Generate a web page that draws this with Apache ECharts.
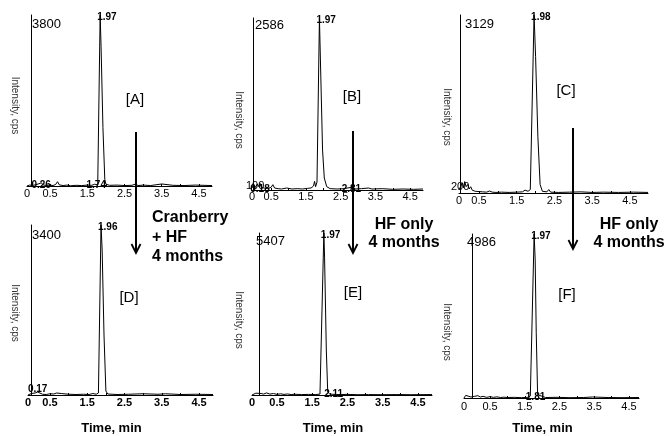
<!DOCTYPE html>
<html lang="en">
<head>
<meta charset="UTF-8">
<title>Chromatograms</title>
<script src="https://cdn.jsdelivr.net/npm/echarts@6/dist/echarts.min.js"></script>
<style>
    html, body { margin: 0; padding: 0; background: #fff; }
    #main { width: 667px; height: 436px; }
</style>
</head>
<body>
<div id="main"></div>
<script>
    // panel names and full-scale intensity (cps)
    const panelNames = ['[A]', '[B]', '[C]', '[D]', '[E]', '[F]'];
    const yMaxes = [3800, 2586, 3129, 3400, 5407, 4986];
    const xTickLabels = [0, 0.5, 1.5, 2.5, 3.5, 4.5];
    const xMinorTicks = [0.5, 1, 1.5, 2, 2.5, 3, 3.5, 4, 4.5];

    // traces: [time (min), intensity (cps)]
    const traceA = [[-0.12, 0], [-0.05, 20], [0.0, 45], [0.05, 15], [0.12, 30], [0.2, 50], [0.26, 70], [0.32, 25], [0.4, 10], [0.5, 20], [0.58, 10], [0.65, 35], [0.7, 95], [0.75, 25], [0.85, 10], [0.95, 20], [1.05, 5], [1.2, 15], [1.35, 10], [1.5, 20], [1.62, 15], [1.7, 40], [1.74, 70], [1.78, 25], [1.8, 50], [1.845, 3800], [1.87, 3100], [1.92, 1300], [1.97, 150], [2.0, 40], [2.1, 15], [2.3, 20], [2.5, 10], [2.7, 15], [2.8, 45], [2.86, 10], [3.0, 20], [3.2, 10], [3.5, 45], [3.55, 10], [3.8, 15], [4.1, 10], [4.4, 20], [4.85, 10]];
    const traceB = [[-0.05, 30], [0.0, 80], [0.05, 40], [0.1, 90], [0.15, 50], [0.18, 100], [0.22, 40], [0.3, 30], [0.4, 20], [0.5, 40], [0.55, 80], [0.6, 30], [0.7, 20], [0.8, 15], [0.95, 30], [1.1, 15], [1.25, 20], [1.4, 15], [1.55, 25], [1.65, 30], [1.72, 60], [1.75, 130], [1.78, 50], [1.82, 120], [1.89, 2586], [1.93, 1700], [1.98, 600], [2.03, 180], [2.1, 50], [2.2, 20], [2.4, 15], [2.6, 20], [2.8, 40], [2.9, 15], [3.1, 20], [3.3, 30], [3.4, 15], [3.7, 20], [4.0, 10], [4.3, 15], [4.6, 10], [4.87, 15]];
    const traceC = [[-0.03, 60], [0.02, 120], [0.06, 180], [0.09, 90], [0.12, 200], [0.16, 110], [0.2, 150], [0.24, 70], [0.28, 110], [0.32, 50], [0.36, 80], [0.4, 30], [0.45, 60], [0.5, 25], [0.55, 50], [0.6, 20], [0.65, 45], [0.7, 15], [0.78, 35], [0.85, 15], [0.9, 30], [0.95, 10], [1.1, 15], [1.3, 10], [1.5, 15], [1.65, 20], [1.72, 50], [1.76, 60], [1.8, 30], [1.86, 60], [1.96, 3129], [2.0, 2400], [2.06, 1000], [2.12, 150], [2.18, 30], [2.3, 20], [2.35, 60], [2.4, 15], [2.6, 10], [2.9, 15], [3.2, 20], [3.5, 10], [3.8, 15], [4.2, 10], [4.6, 15], [4.98, 10]];
    const traceD = [[-0.09, 0], [0.0, 30], [0.05, 15], [0.1, 40], [0.17, 60], [0.22, 20], [0.3, 15], [0.4, 10], [0.5, 25], [0.55, 50], [0.6, 20], [0.68, 40], [0.72, 15], [0.8, 30], [0.85, 10], [1.0, 15], [1.2, 10], [1.4, 15], [1.55, 10], [1.65, 30], [1.7, 60], [1.74, 15], [1.8, 40], [1.87, 3400], [1.9, 2900], [1.95, 1200], [2.0, 80], [2.05, 20], [2.3, 10], [2.6, 15], [3.0, 25], [3.05, 10], [3.4, 15], [3.6, 25], [3.65, 10], [4.0, 10], [4.4, 15], [4.875, 10]];
    const traceE = [[-0.21, 0], [-0.1, 60], [-0.05, 20], [0.05, 50], [0.12, 30], [0.2, 70], [0.3, 30], [0.4, 50], [0.5, 20], [0.6, 40], [0.7, 20], [0.8, 35], [0.9, 15], [1.0, 25], [1.2, 15], [1.4, 20], [1.6, 15], [1.72, 30], [1.76, 50], [1.83, 5407], [1.85, 4600], [1.9, 1500], [1.94, 100], [2.0, 30], [2.2, 15], [2.5, 20], [2.8, 10], [3.1, 15], [3.5, 10], [3.9, 15], [4.3, 10], [4.9, 15]];
    const traceF = [[-0.25, 0], [-0.2, 80], [-0.15, 20], [-0.05, 30], [0.05, 50], [0.1, 30], [0.15, 70], [0.22, 30], [0.3, 50], [0.4, 20], [0.5, 40], [0.6, 20], [0.7, 35], [0.8, 15], [0.9, 25], [1.0, 15], [1.2, 20], [1.4, 10], [1.6, 20], [1.66, 60], [1.77, 4986], [1.8, 4200], [1.83, 2000], [1.87, 100], [1.9, 40], [2.1, 15], [2.4, 20], [2.8, 10], [3.2, 15], [3.45, 30], [3.5, 10], [3.9, 15], [4.3, 10], [4.79, 15]];
    const traces = [traceA, traceB, traceC, traceD, traceE, traceF];

    // peak retention-time labels: [time, intensity, text]; first one is the apex
    const peaksA = [[1.845, 3800, '1.97'], [0.26, 0, '0.26'], [1.74, 0, '1.74']];
    const peaksB = [[1.89, 2586, '1.97'], [0.18, 0, '0.18'], [2.81, 0, '2.81']];
    const peaksC = [[1.96, 3129, '1.98']];
    const peaksD = [[1.87, 3400, '1.96'], [0.17, 100, '0.17']];
    const peaksE = [[1.83, 5407, '1.97'], [2.11, 0, '2.11']];
    const peaksF = [[1.77, 4986, '1.97'], [1.81, 0, '1.81']];
    const peaks = [peaksA, peaksB, peaksC, peaksD, peaksE, peaksF];

    // layout (pixels) of each panel
    const layout = [
        { left: 27, top: 15, width: 185, height: 171, xMin: -0.12, xMax: 4.85, margin: 2, bold: false, num: [32, 24], tag: [135, 100], nameGap: 7, nameShift: 5 },
        { left: 252, top: 18, width: 171, height: 172, xMin: -0.05, xMax: 4.87, margin: 1, bold: false, num: [255, 25], tag: [352, 97], nameGap: 8, nameShift: 16 },
        { left: 459, top: 15, width: 189, height: 178, xMin: -0.03, xMax: 4.98, margin: 2, bold: false, num: [465, 24], tag: [566, 91], nameGap: 7, nameShift: 13 },
        { left: 28, top: 225, width: 185, height: 170, xMin: -0.09, xMax: 4.875, margin: 2, bold: true, num: [32, 235], tag: [129, 298], nameGap: 8, nameShift: 3 },
        { left: 252, top: 233, width: 180, height: 162, xMin: -0.21, xMax: 4.9, margin: 2, bold: true, num: [256, 241], tag: [353, 293], nameGap: 8, nameShift: 6 },
        { left: 464, top: 234, width: 175, height: 164, xMin: -0.25, xMax: 4.79, margin: 3, bold: false, num: [467, 242], tag: [567, 295], nameGap: 12, nameShift: 16 }
    ];

    const FONT = '"Liberation Sans", Arial, Helvetica, sans-serif';

    let myEchart = echarts.init(document.querySelector('#main'), null, { renderer: 'canvas' });

    let grids = [], xAxes = [], yAxes = [], series = [];
    layout.forEach(function (lay, i) {
        grids.push({ left: lay.left, top: lay.top, width: lay.width, height: lay.height });
        xAxes.push({
            gridIndex: i,
            type: 'value',
            min: lay.xMin,
            max: lay.xMax,
            splitLine: { show: false },
            axisLine: { show: true, onZero: false, lineStyle: { color: '#000', width: 1 } },
            axisTick: { show: true, inside: true, length: 2, customValues: xMinorTicks, lineStyle: { color: '#000' } },
            axisLabel: {
                customValues: xTickLabels.map(v => v === 0 ? lay.xMin : v),
                formatter: v => v < 0.25 ? '0' : v.toFixed(1),
                margin: lay.margin,
                color: '#000',
                fontSize: 11,
                fontWeight: lay.bold ? 'bold' : 'normal',
                fontFamily: FONT
            }
        });
        yAxes.push({
            gridIndex: i,
            type: 'value',
            min: 0,
            max: yMaxes[i],
            name: 'Intensity, cps',
            nameLocation: 'middle',
            nameRotate: -90,
            nameGap: lay.nameGap,
            nameTextStyle: { color: '#333', fontSize: 10, fontFamily: FONT, padding: [0, 0, 0, 2 * lay.nameShift] },
            splitLine: { show: false },
            axisLine: { show: true, lineStyle: { color: '#000', width: 1 } },
            axisTick: { show: false },
            axisLabel: { show: false }
        });
        let pk = peaks[i];
        series.push({
            type: 'line',
            xAxisIndex: i,
            yAxisIndex: i,
            data: traces[i],
            showSymbol: false,
            symbol: 'none',
            animation: false,
            lineStyle: { color: '#000', width: 1 },
            markPoint: {
                symbol: 'circle',
                symbolSize: 0,
                animation: false,
                data: pk.map(function (p, k) {
                    return {
                        coord: [p[0], p[1]],
                        name: p[2],
                        label: k === 0
                            ? { show: true, formatter: '{b}', position: [-3, 2], align: 'left', verticalAlign: 'middle', color: '#000', fontSize: 10, fontWeight: 'bold', fontFamily: FONT }
                            : { show: true, formatter: '{b}', position: 'inside', offset: [0, -1], color: '#000', fontSize: 10, fontWeight: 'bold', fontFamily: FONT }
                    };
                })
            }
        });
    });

    // texts and arrows
    let graphics = [];
    layout.forEach(function (lay, i) {
        graphics.push({
            type: 'text', x: lay.num[0], y: lay.num[1],
            style: { text: String(yMaxes[i]), fill: '#000', font: '13px ' + FONT, textAlign: 'left', textVerticalAlign: 'middle' }
        });
        graphics.push({
            type: 'text', x: lay.tag[0], y: lay.tag[1],
            style: { text: panelNames[i], fill: '#000', font: '15px ' + FONT, textAlign: 'center', textVerticalAlign: 'middle' }
        });
        if (i >= 3) {
            graphics.push({
                type: 'text', x: lay.left + lay.width / 2 - 9, y: 428,
                style: { text: 'Time, min', fill: '#000', font: 'bold 13px ' + FONT, textAlign: 'center', textVerticalAlign: 'middle' }
            });
        }
    });
    // y-level labels near the origin of B and C
    graphics.push({ type: 'text', x: 246, y: 186, style: { text: '100', fill: '#000', font: '11px ' + FONT, textVerticalAlign: 'middle' } });
    graphics.push({ type: 'text', x: 451, y: 187, style: { text: '200', fill: '#000', font: '11px ' + FONT, textVerticalAlign: 'middle' } });

    // arrows from top row to bottom row
    [[136, 132, 253], [353, 131, 253], [573, 128, 249]].forEach(function (a) {
        graphics.push({ type: 'line', shape: { x1: a[0], y1: a[1], x2: a[0], y2: a[2] }, style: { stroke: '#000', lineWidth: 2 } });
        graphics.push({ type: 'polyline', shape: { points: [[a[0] - 4.5, a[2] - 9], [a[0], a[2]], [a[0] + 4.5, a[2] - 9]] }, style: { stroke: '#000', lineWidth: 1.8, fill: null } });
    });

    // group annotations
    ['Cranberry', '+ HF', '4 months'].forEach(function (t, k) {
        graphics.push({ type: 'text', x: 152, y: 218 + k * 19.5, style: { text: t, fill: '#000', font: 'bold 16px ' + FONT, textAlign: 'left', textVerticalAlign: 'middle' } });
    });
    [404, 629].forEach(function (cx) {
        ['HF only', '4 months'].forEach(function (t, k) {
            graphics.push({ type: 'text', x: cx, y: 225 + k * 18, style: { text: t, fill: '#000', font: 'bold 16px ' + FONT, textAlign: 'center', textVerticalAlign: 'middle' } });
        });
    });

    let option = {
        backgroundColor: '#fff',
        animation: false,
        grid: grids,
        xAxis: xAxes,
        yAxis: yAxes,
        series: series,
        graphic: graphics
    };
    myEchart.setOption(option);
</script>
</body>
</html>
